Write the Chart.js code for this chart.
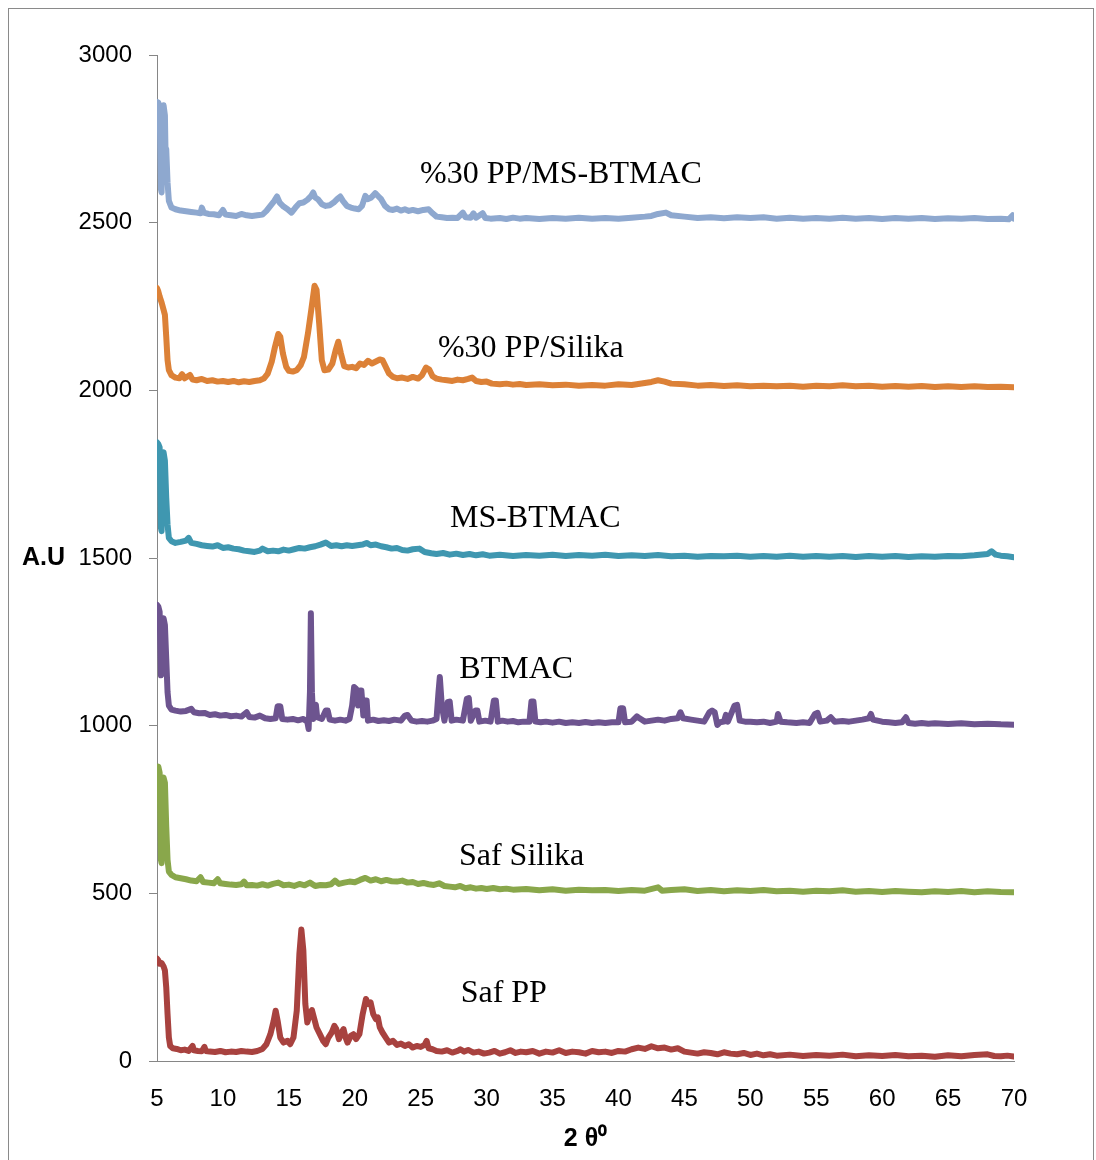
<!DOCTYPE html>
<html>
<head>
<meta charset="utf-8">
<title>XRD</title>
<script src="https://cdn.jsdelivr.net/npm/chart.js@4.4.1/dist/chart.umd.min.js"></script>
<style>
  html, body { margin: 0; padding: 0; background: #fff; }
  #wrap { position: relative; width: 1096px; height: 1160px; }
</style>
</head>
<body>
<div id="wrap"><canvas id="xrdChart" width="1096" height="1160"></canvas></div>
<script>
// axis ticks
const thetaTicks = [5, 10, 15, 20, 25, 30, 35, 40, 45, 50, 55, 60, 65, 70];
const intensityTicks = [0, 500, 1000, 1500, 2000, 2500, 3000];

const sampleNames = ['%30 PP/MS-BTMAC', '%30 PP/Silika', 'MS-BTMAC', 'BTMAC', 'Saf Silika', 'Saf PP'];

// diffraction patterns as [2theta, counts], each offset by 500
const ppMsBtmac = [
  [5.0,2860],[5.1,2858],[5.2,2840],[5.3,2600],[5.35,2590],[5.4,2830],[5.5,2850],[5.6,2820],[5.65,2700],[5.7,2720],
  [5.8,2620],[5.9,2565],[6.1,2545],[6.4,2540],[6.8,2536],[7.2,2534],[7.6,2532],[8.0,2530],[8.3,2528],[8.4,2545],
  [8.55,2530],[8.9,2526],[9.3,2525],[9.7,2522],[10.0,2538],[10.2,2524],[10.6,2522],[11.0,2520],[11.4,2526],[11.8,2522],
  [12.2,2520],[12.6,2522],[13.0,2524],[13.3,2535],[13.6,2550],[13.9,2565],[14.1,2578],[14.3,2560],[14.6,2548],[14.9,2540],
  [15.2,2530],[15.5,2545],[15.8,2558],[16.1,2560],[16.4,2568],[16.7,2580],[16.85,2590],[17.0,2575],[17.2,2570],[17.5,2555],
  [17.8,2550],[18.1,2552],[18.4,2560],[18.7,2572],[18.9,2578],[19.1,2565],[19.4,2550],[19.7,2545],[20.0,2542],[20.3,2540],
  [20.55,2550],[20.8,2580],[21.0,2570],[21.25,2575],[21.55,2588],[21.8,2578],[22.0,2570],[22.3,2550],[22.6,2540],[22.9,2538],
  [23.2,2542],[23.5,2536],[23.8,2540],[24.1,2535],[24.4,2538],[24.8,2534],[25.2,2538],[25.6,2540],[25.9,2528],[26.2,2518],
  [26.6,2516],[27.0,2514],[27.4,2515],[27.8,2514],[28.2,2530],[28.4,2516],[28.8,2515],[29.0,2528],[29.2,2515],[29.7,2528],
  [29.9,2514],[30.3,2512],[31,2514],[31.5,2511],[32,2515],[32.5,2512],[33,2514],[34,2511],[35,2514],[36,2512],
  [37,2515],[38,2512],[39,2514],[40,2512],[41,2515],[42,2518],[42.5,2520],[43,2526],[43.6,2530],[44,2522],
  [45,2518],[46,2514],[47,2516],[48,2513],[49,2516],[50,2514],[51,2516],[52,2512],[53,2515],[54,2512],
  [55,2514],[56,2512],[57,2515],[58,2512],[59,2514],[60,2511],[61,2514],[62,2512],[63,2514],[64,2511],
  [65,2513],[66,2512],[67,2514],[68,2511],[69,2512],[69.6,2510],[69.9,2522],[70,2512]
];

const ppSilika = [
  [5.0,2305],[5.1,2295],[5.2,2280],[5.35,2262],[5.5,2240],[5.6,2225],[5.7,2160],[5.8,2090],[5.9,2060],[6.1,2045],
  [6.4,2038],[6.7,2036],[6.9,2048],[7.1,2036],[7.5,2046],[7.7,2032],[8.0,2030],[8.4,2034],[8.8,2028],[9.2,2030],
  [9.6,2026],[10.0,2028],[10.4,2025],[10.8,2028],[11.2,2024],[11.6,2027],[12.0,2025],[12.4,2028],[12.8,2030],[13.1,2035],
  [13.4,2050],[13.7,2085],[13.95,2130],[14.2,2168],[14.35,2160],[14.55,2110],[14.8,2070],[15.0,2058],[15.3,2056],[15.6,2060],
  [15.9,2075],[16.15,2100],[16.45,2170],[16.7,2240],[16.95,2312],[17.1,2300],[17.3,2200],[17.5,2090],[17.7,2060],[18.0,2062],
  [18.3,2080],[18.55,2120],[18.75,2145],[18.95,2110],[19.2,2072],[19.5,2068],[19.8,2070],[20.1,2066],[20.4,2080],[20.7,2076],
  [21.0,2088],[21.3,2080],[21.6,2086],[21.9,2092],[22.1,2090],[22.35,2070],[22.6,2050],[22.9,2040],[23.2,2036],[23.6,2038],
  [24.0,2034],[24.4,2040],[24.8,2035],[25.1,2045],[25.4,2068],[25.65,2062],[25.9,2042],[26.2,2035],[26.6,2032],[27.0,2030],
  [27.4,2028],[27.8,2032],[28.2,2030],[28.6,2034],[28.9,2038],[29.2,2028],[29.6,2025],[30.0,2026],[30.4,2020],[31,2018],
  [31.5,2020],[32,2017],[32.5,2019],[33,2016],[34,2018],[35,2015],[36,2017],[37,2014],[38,2016],[39,2014],
  [40,2018],[41,2016],[42,2022],[42.5,2025],[43,2030],[43.5,2026],[44,2020],[45,2018],[46,2014],[47,2016],
  [48,2013],[49,2015],[50,2012],[51,2014],[52,2012],[53,2014],[54,2011],[55,2014],[56,2012],[57,2015],
  [58,2012],[59,2014],[60,2011],[61,2013],[62,2011],[63,2013],[64,2010],[65,2012],[66,2010],[67,2012],
  [68,2010],[69,2011],[70,2009]
];

const msBtmac = [
  [5.0,1845],[5.1,1840],[5.2,1830],[5.3,1590],[5.35,1580],[5.4,1810],[5.5,1815],[5.6,1790],[5.7,1680],[5.8,1600],
  [5.9,1560],[6.1,1550],[6.4,1545],[6.8,1548],[7.2,1552],[7.4,1560],[7.6,1545],[8.0,1542],[8.4,1538],[8.8,1536],
  [9.2,1534],[9.6,1538],[10.0,1530],[10.4,1532],[10.8,1528],[11.2,1526],[11.6,1522],[12.0,1520],[12.4,1518],[12.8,1522],
  [13.0,1528],[13.4,1520],[13.8,1522],[14.2,1520],[14.6,1525],[15.0,1522],[15.4,1526],[15.8,1530],[16.2,1528],[16.6,1532],
  [17.0,1535],[17.4,1540],[17.8,1546],[18.2,1536],[18.6,1538],[19.0,1535],[19.4,1538],[19.8,1536],[20.2,1538],[20.6,1540],
  [20.9,1545],[21.2,1538],[21.6,1540],[22.0,1535],[22.4,1532],[22.8,1528],[23.2,1530],[23.6,1524],[24.0,1522],[24.4,1526],
  [24.9,1528],[25.3,1518],[25.8,1514],[26.2,1512],[26.7,1515],[27.2,1510],[27.7,1513],[28.2,1509],[28.7,1512],[29.2,1508],
  [29.7,1511],[30.2,1507],[31,1510],[32,1506],[33,1509],[34,1507],[35,1510],[36,1506],[37,1509],[38,1507],
  [39,1510],[40,1506],[41,1508],[42,1506],[43,1509],[44,1505],[45,1507],[46,1504],[47,1506],[48,1505],
  [49,1507],[50,1504],[51,1506],[52,1504],[53,1507],[54,1504],[55,1506],[56,1504],[57,1506],[58,1503],
  [59,1506],[60,1504],[61,1506],[62,1503],[63,1505],[64,1504],[65,1506],[66,1505],[67,1508],[68,1512],
  [68.3,1520],[68.6,1510],[69,1507],[69.5,1505],[70,1502]
];

const btmac = [
  [5.0,1360],[5.1,1355],[5.2,1340],[5.3,1150],[5.4,1160],[5.5,1320],[5.6,1300],[5.7,1200],[5.8,1100],[5.9,1060],
  [6.1,1048],[6.4,1045],[6.8,1042],[7.2,1044],[7.6,1050],[7.8,1040],[8.2,1037],[8.6,1038],[9.0,1032],[9.4,1034],
  [9.8,1030],[10.2,1032],[10.6,1028],[11.0,1030],[11.4,1027],[11.8,1040],[12.0,1026],[12.4,1024],[12.8,1030],[13.2,1022],
  [13.6,1020],[14.0,1022],[14.15,1058],[14.35,1058],[14.5,1020],[14.9,1018],[15.3,1020],[15.7,1016],[16.1,1020],[16.4,1012],
  [16.5,990],[16.6,1100],[16.67,1335],[16.75,1100],[16.85,1020],[16.95,1060],[17.05,1062],[17.15,1025],[17.5,1020],[17.8,1045],
  [17.95,1045],[18.1,1018],[18.5,1015],[18.9,1018],[19.3,1015],[19.6,1020],[19.8,1060],[19.95,1115],[20.1,1110],[20.25,1060],
  [20.4,1105],[20.5,1105],[20.65,1030],[20.8,1075],[20.9,1075],[21.0,1015],[21.4,1018],[21.8,1014],[22.2,1016],[22.6,1014],
  [23.0,1018],[23.5,1015],[23.8,1030],[24.0,1032],[24.3,1015],[24.7,1012],[25.1,1014],[25.5,1012],[25.9,1015],[26.2,1020],
  [26.35,1100],[26.45,1145],[26.6,1060],[26.8,1015],[27.05,1070],[27.2,1072],[27.35,1015],[27.7,1018],[28.2,1015],[28.5,1080],
  [28.65,1082],[28.8,1015],[29.15,1045],[29.3,1045],[29.45,1012],[29.9,1015],[30.3,1012],[30.55,1075],[30.7,1075],[30.85,1012],
  [31.2,1015],[31.6,1012],[32.0,1014],[32.4,1010],[32.8,1012],[33.25,1012],[33.4,1072],[33.55,1072],[33.7,1012],[34.1,1010],
  [34.5,1012],[35,1009],[35.5,1012],[36,1008],[36.5,1010],[37,1008],[37.5,1011],[38,1008],[38.5,1010],[39,1008],
  [39.5,1010],[40.0,1010],[40.15,1052],[40.35,1052],[40.5,1010],[41.0,1012],[41.4,1028],[41.6,1022],[42.0,1012],[42.5,1015],
  [43.0,1018],[43.5,1015],[44.0,1020],[44.5,1022],[44.7,1040],[44.9,1022],[45.5,1018],[46.0,1015],[46.5,1012],[46.9,1040],
  [47.1,1045],[47.3,1040],[47.5,1002],[47.7,1010],[48.0,1012],[48.15,1032],[48.3,1012],[48.8,1060],[49.0,1062],[49.2,1015],
  [49.6,1012],[50.0,1012],[50.5,1010],[51.0,1012],[51.5,1008],[52.0,1012],[52.1,1035],[52.3,1012],[52.8,1010],[53.5,1008],
  [54.0,1010],[54.5,1008],[54.9,1035],[55.1,1038],[55.3,1012],[55.8,1015],[56.1,1025],[56.4,1012],[57,1014],[57.5,1012],
  [58,1015],[58.5,1018],[59.0,1022],[59.15,1035],[59.3,1018],[60,1012],[60.5,1010],[61,1008],[61.5,1010],[61.8,1025],
  [62.0,1008],[62.5,1006],[63,1008],[63.5,1006],[64,1007],[65,1005],[66,1007],[67,1004],[68,1006],[69,1004],
  [70,1003]
];

const safSilika = [
  [5.0,870],[5.1,878],[5.2,860],[5.3,600],[5.35,590],[5.4,840],[5.5,845],[5.6,830],[5.7,700],[5.8,600],
  [5.9,565],[6.1,555],[6.4,548],[6.8,545],[7.2,542],[7.6,538],[8.0,536],[8.3,548],[8.5,534],[8.9,532],
  [9.3,530],[9.6,542],[9.8,530],[10.2,528],[10.6,526],[11.0,525],[11.4,527],[11.6,535],[11.8,524],[12.2,525],
  [12.6,523],[13.0,527],[13.4,523],[13.8,528],[14.2,532],[14.6,524],[15.0,526],[15.4,522],[15.8,528],[16.2,524],
  [16.6,532],[17.0,522],[17.4,525],[17.8,524],[18.2,527],[18.5,538],[18.8,528],[19.2,532],[19.6,535],[20.0,533],
  [20.4,540],[20.8,546],[21.2,538],[21.6,542],[22.0,536],[22.4,540],[22.8,536],[23.2,535],[23.6,538],[24.0,532],
  [24.4,534],[24.8,528],[25.2,531],[25.6,527],[26.0,525],[26.4,530],[26.8,522],[27.2,520],[27.6,518],[28.0,522],
  [28.4,515],[28.8,518],[29.2,514],[29.6,516],[30.0,513],[30.5,516],[31,512],[31.5,514],[32,511],[33,513],
  [34,509],[35,512],[36,508],[37,511],[38,509],[39,510],[40,507],[41,510],[42,508],[43,518],
  [43.3,508],[44,510],[45,512],[46,507],[47,510],[48,506],[49,509],[50,507],[51,510],[52,506],
  [53,508],[54,505],[55,508],[56,506],[57,509],[58,505],[59,507],[60,504],[61,507],[62,505],
  [63,503],[64,506],[65,504],[66,507],[67,503],[68,506],[69,504],[70,503]
];

const safPP = [
  [5.0,305],[5.1,300],[5.2,290],[5.35,292],[5.5,282],[5.6,270],[5.7,220],[5.8,140],[5.9,70],[6.0,45],
  [6.2,38],[6.5,36],[6.8,32],[7.1,34],[7.4,30],[7.7,45],[7.8,32],[8.1,30],[8.4,29],[8.6,42],
  [8.7,30],[9.0,28],[9.4,27],[9.8,30],[10.2,26],[10.6,28],[11.0,27],[11.4,30],[11.8,28],[12.2,27],
  [12.6,30],[13.0,36],[13.3,50],[13.6,80],[13.85,120],[14.0,150],[14.15,120],[14.35,70],[14.6,55],[14.9,60],
  [15.1,50],[15.35,70],[15.6,150],[15.8,320],[15.95,392],[16.1,330],[16.25,170],[16.4,115],[16.6,140],[16.75,152],
  [16.9,130],[17.1,100],[17.35,80],[17.6,60],[17.8,50],[18.0,70],[18.25,85],[18.45,105],[18.6,95],[18.8,65],
  [19.0,85],[19.15,95],[19.3,70],[19.45,55],[19.7,75],[19.9,80],[20.1,65],[20.35,80],[20.6,140],[20.85,185],
  [21.0,170],[21.2,175],[21.4,140],[21.6,125],[21.75,130],[21.9,100],[22.1,85],[22.35,70],[22.6,55],[22.9,60],
  [23.2,48],[23.5,52],[23.8,45],[24.1,50],[24.4,40],[24.7,45],[25.0,42],[25.3,48],[25.45,60],[25.6,38],
  [25.9,35],[26.2,30],[26.6,28],[27.0,32],[27.4,25],[27.8,30],[28.0,35],[28.3,28],[28.6,33],[29.0,25],
  [29.4,28],[29.8,22],[30.2,25],[30.6,30],[31.0,22],[31.4,26],[31.8,32],[32.2,24],[32.6,28],[33.0,26],
  [33.5,30],[34.0,22],[34.5,28],[35.0,25],[35.5,32],[36.0,24],[36.5,28],[37.0,26],[37.5,22],[38.0,30],
  [38.5,26],[39.0,28],[39.5,24],[40.0,30],[40.5,28],[41.0,35],[41.5,40],[42.0,36],[42.5,44],[43.0,38],
  [43.5,40],[44.0,34],[44.5,38],[45.0,28],[45.5,25],[46.0,22],[46.5,26],[47.0,24],[47.5,20],[48.0,26],
  [48.5,22],[49.0,20],[49.5,24],[50.0,18],[50.5,22],[51.0,17],[51.5,20],[52.0,16],[53,19],[54,15],
  [55,18],[56,16],[57,19],[58,14],[59,17],[60,15],[61,18],[62,14],[63,16],[64,13],
  [65,17],[66,14],[67,18],[68,20],[68.5,15],[69,14],[69.5,16],[70,13]
];

const patterns = [ppMsBtmac, ppSilika, msBtmac, btmac, safSilika, safPP];
const lineColors = ['#8EA8CF', '#DC8137', '#3F97B0', '#6D548F', '#89A74B', '#A8423F'];

// where each sample name sits, in (2theta, counts) of its left baseline
const nameAnchors = [[24.95, 2617], [26.31, 2099], [27.22, 1593], [27.93, 1142], [27.90, 584], [28.03, 176]];

const tickFont = { family: "'Liberation Sans', Arial, sans-serif", size: 24 };
const boldFont = { family: "'Liberation Sans', Arial, sans-serif", size: 25, weight: 'bold' };

const datasets = patterns.map((pts, i) => ({
  label: sampleNames[i],
  data: pts.map(p => ({ x: p[0], y: p[1] })),
  borderColor: lineColors[i],
  backgroundColor: lineColors[i],
  borderWidth: 6,
  pointRadius: 0,
  tension: 0,
  borderJoinStyle: 'round',
  borderCapStyle: 'round'
}));

// frame, y title and the sample names
const decorations = {
  id: 'decorations',
  beforeDraw(chart) {
    const ctx = chart.ctx;
    ctx.save();
    ctx.strokeStyle = '#8a8a8a';
    ctx.lineWidth = 1;
    ctx.strokeRect(8.5, 8.5, 1085, 1170);
    ctx.restore();
  },
  afterDraw(chart) {
    const ctx = chart.ctx;
    const xs = chart.scales.x, ys = chart.scales.y;
    const area = chart.chartArea;
    ctx.save();
    ctx.fillStyle = '#000';
    ctx.font = 'bold 25px "Liberation Sans", Arial, sans-serif';
    ctx.textAlign = 'left';
    ctx.textBaseline = 'middle';
    ctx.fillText('A.U', 22, (area.top + area.bottom) / 2);

    ctx.font = '32px "Liberation Serif", "Times New Roman", serif';
    ctx.textBaseline = 'alphabetic';
    sampleNames.forEach((name, i) => {
      const a = nameAnchors[i];
      ctx.fillText(name, xs.getPixelForValue(a[0]), ys.getPixelForValue(a[1]));
    });
    ctx.restore();
  }
};

new Chart(document.getElementById('xrdChart'), {
  type: 'line',
  data: { datasets: datasets },
  options: {
    responsive: false,
    animation: false,
    devicePixelRatio: 1,
    layout: { padding: { top: 55, right: 82, left: 0, bottom: 0 } },
    plugins: { legend: { display: false }, tooltip: { enabled: false } },
    scales: {
      x: {
        type: 'linear',
        min: 5,
        max: 70,
        afterBuildTicks: s => { s.ticks = thetaTicks.map(v => ({ value: v })); },
        afterFit: s => { s.height = 99; },
        grid: { display: false, drawTicks: false },
        border: { display: true, color: '#868686', width: 1 },
        ticks: { color: '#000', padding: 24, maxRotation: 0, autoSkip: false, font: tickFont, callback: v => String(v) },
        title: { display: true, text: '2 θ⁰', color: '#000', font: boldFont, padding: { top: 0, bottom: 6 } }
      },
      y: {
        type: 'linear',
        min: 0,
        max: 3000,
        afterBuildTicks: s => { s.ticks = intensityTicks.map(v => ({ value: v })); },
        afterFit: s => { s.width = 157; },
        grid: { display: true, drawOnChartArea: false, drawTicks: true, tickLength: 8, color: '#868686' },
        border: { display: true, color: '#868686', width: 1 },
        ticks: { color: '#000', padding: 17, autoSkip: false, font: tickFont, callback: v => String(v) }
      }
    }
  },
  plugins: [decorations]
});
</script>
</body>
</html>
